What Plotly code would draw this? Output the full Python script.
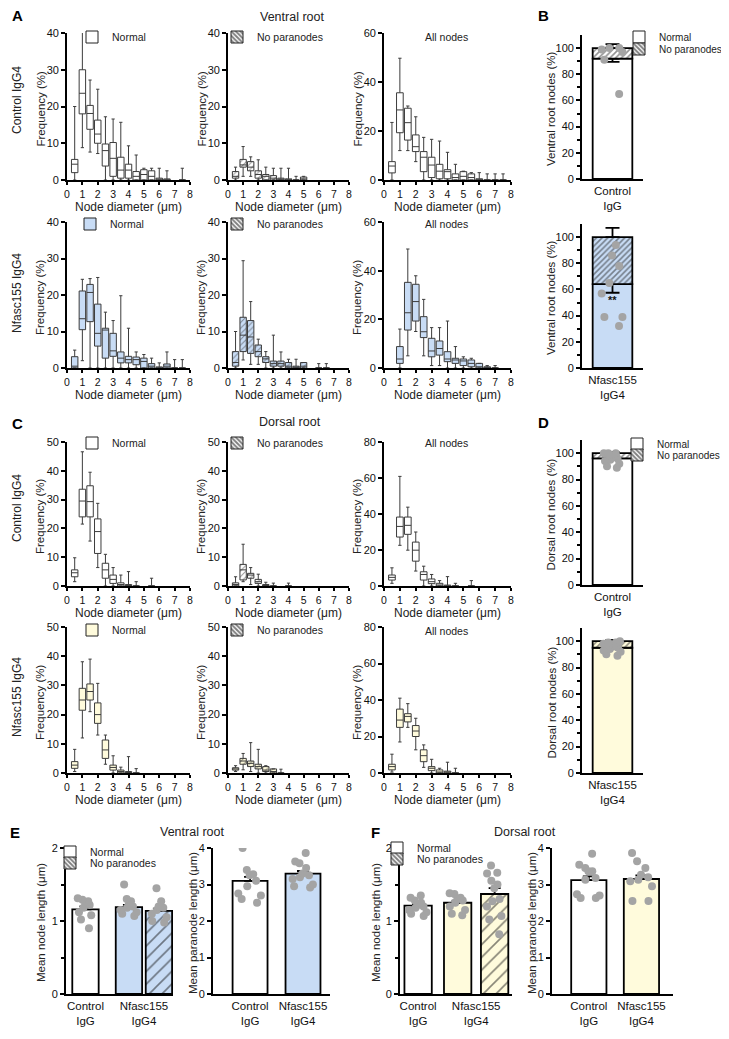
import plotly.graph_objects as go

# ---------------- data ----------------
BINS = [0.5, 1.0, 1.5, 2.0, 2.5, 3.0, 3.5, 4.0, 4.5, 5.0, 5.5, 6.0, 6.5, 7.0, 7.5]
N = None

# A: ventral root, Control IgG4, Normal nodes (frequency %, per bin)
vr_ctl_norm_lo = [0, 8.8, 7.6, 7.2, 0, 0, 0, 0, 0, 0, 0, 0, 0, N, 0]
vr_ctl_norm_q1 = [2.0, 18, 13.8, 10, 3.8, 1.0, 0.5, 0.5, 0, 0, 0, 0, 0, N, 0]
vr_ctl_norm_md = [4.3, 23.6, 18.1, 12.5, 8.0, 5.9, 2.7, 2.7, 1.0, 1.5, 1.0, 0, 0, N, 0]
vr_ctl_norm_q3 = [5.6, 30, 20.3, 16.3, 9.8, 10.2, 6.2, 4.3, 2.3, 2.8, 2.5, 0.5, 0.3, N, 0]
vr_ctl_norm_hi = [20, 41, 27.2, 24.7, 17.2, 16.6, 15.7, 9.3, 6.8, 3.2, 3.2, 3.2, 2.5, N, 3.2]
# A: ventral root, Control IgG4, No paranodes
vr_ctl_np_lo = [0, 1.0, 1.0, 0, 0, 0, 0, 0, 0, 0]
vr_ctl_np_q1 = [0.5, 3.5, 2.5, 0.5, 0, 0, 0, 0, 0, 0]
vr_ctl_np_md = [1.0, 4.1, 3.5, 1.5, 1.0, 0.5, 0, 0, 0, 0.3]
vr_ctl_np_q3 = [2.3, 5.6, 5.0, 2.5, 1.5, 1.2, 0.5, 0.3, 0, 0.8]
vr_ctl_np_hi = [3.5, 9.1, 6.3, 5.5, 3.5, 3.2, 3.2, 3.2, 1.0, 1.0]
# A: ventral root, Control IgG4, All nodes
vr_ctl_all_lo = [0, 12, 12, 7.5, 0, 0, 0, 0, 0, 0, 0, 0, 0, 0, 0]
vr_ctl_all_q1 = [2.9, 19.3, 16.3, 11.6, 3.4, 1.0, 0.5, 0.5, 0, 0, 0, 0, 0, 0, 0]
vr_ctl_all_md = [5.7, 28.6, 23.4, 13.6, 9.3, 6.1, 3.6, 3.4, 1.0, 1.5, 1.0, 0, 0, 0, 0]
vr_ctl_all_q3 = [7.5, 35.6, 29.3, 18.4, 11.6, 9.3, 6.4, 4.2, 2.5, 3.4, 2.5, 0.5, 0, 0, 0]
vr_ctl_all_hi = [23.5, 49.7, 30.2, 25.8, 17.4, 16.6, 15.9, 11.3, 6.4, 3.6, 3.0, 3.0, 2.5, 2.5, 2.5]
# A: ventral root, Nfasc155 IgG4, Normal
vr_nf_norm_lo = [0, 2.0, 0, 0, 0, 0, 0, 0, 0, 0, 0, 0, 0, 0, 0]
vr_nf_norm_q1 = [0, 10.5, 12.7, 6.0, 2.7, 3.2, 1.4, 1.4, 0.9, 0, 0, 0, 0, 0, 0]
vr_nf_norm_md = [0.5, 13.5, 20.7, 9.5, 10.4, 4.7, 2.7, 2.3, 2.3, 1.8, 0.5, 0, 0.5, 0, 0]
vr_nf_norm_q3 = [3.1, 21.1, 22.9, 17.5, 10.9, 9.5, 4.4, 3.2, 3.0, 2.7, 1.2, 0.3, 1.1, 0, 0]
vr_nf_norm_hi = [4.9, 24.3, 24.5, 24.8, 15.3, 13.0, 19.8, 10.9, 4.4, 3.7, 2.7, 1.4, 4.4, 2.3, 2.3]
# A: ventral root, Nfasc155 IgG4, No paranodes
vr_nf_np_lo = [0, 2.2, 1.0, 1.0, 0, 0, 0, 0, 0, 0, N, 0, 0]
vr_nf_np_q1 = [0.5, 4.5, 4.0, 3.1, 1.5, 0.5, 0.5, 0, 0, 0, N, 0, 0]
vr_nf_np_md = [1.5, 9.0, 8.5, 4.5, 2.5, 1.2, 1.2, 0.5, 0, 0.5, N, 0, 0]
vr_nf_np_q3 = [4.5, 13.9, 13.0, 6.3, 3.1, 1.9, 1.9, 1.5, 0.5, 1.5, N, 0, 0]
vr_nf_np_hi = [10, 29.4, 18.2, 7.9, 4.5, 9.0, 4.4, 2.4, 2.4, 1.5, N, 1.2, 1.2]
# A: ventral root, Nfasc155 IgG4, All nodes
vr_nf_all_lo = [N, 0, 5, 15, 5, 1, 1, 0, 0, 0, 0, 0, 0, 0]
vr_nf_all_q1 = [N, 1.9, 15.6, 19.3, 12.5, 4.6, 5.3, 2.6, 1.9, 1.0, 0.5, 0, 0, 0]
vr_nf_all_md = [N, 3.7, 22.7, 27.3, 14.9, 7.0, 8.0, 3.7, 3.3, 2.9, 1.9, 0.5, 0, 0]
vr_nf_all_q3 = [N, 8.8, 35.2, 34.4, 21.1, 12.2, 11.1, 6.7, 4.0, 3.7, 3.3, 1.9, 0.5, 0]
vr_nf_all_hi = [N, 16.0, 48.9, 37.9, 28.2, 16.6, 16.6, 19.3, 8.8, 4.6, 4.0, 1.9, 1.0, 1.0]

# C: dorsal root, Control IgG4, Normal
dr_ctl_norm_lo = [1.5, 21.5, 15.6, 6.4, 0, 0, 0, 0, 0, N, 0]
dr_ctl_norm_q1 = [3.2, 24, 24, 11.3, 2.7, 0.9, 0, 0, 0, N, 0]
dr_ctl_norm_md = [4.6, 29.5, 29.3, 18.9, 5.6, 2.3, 0.5, 0, 0, N, 0]
dr_ctl_norm_q3 = [5.6, 33.6, 34.8, 23.3, 7.9, 3.8, 1.1, 0.5, 0, N, 0]
dr_ctl_norm_hi = [9.8, 46.6, 39.5, 28.7, 11.0, 6.4, 3.8, 5.0, 1.5, N, 2.7]
# C: dorsal root, Control IgG4, No paranodes
dr_ctl_np_lo = [0, 1.5, 0.5, 0, 0, 0, N, 0]
dr_ctl_np_q1 = [0, 2.1, 2.7, 0.9, 0, 0, N, 0]
dr_ctl_np_md = [0.5, 5.6, 3.8, 1.5, 0, 0, N, 0]
dr_ctl_np_q3 = [1.1, 7.5, 4.4, 2.3, 0.5, 0, N, 0]
dr_ctl_np_hi = [3.2, 14.5, 6.4, 4.1, 1.3, 1.0, N, 1.0]
# C: dorsal root, Control IgG4, All nodes
dr_ctl_all_lo = [1.5, 22.6, 19.9, 8.3, 0, 0, 0, 0, 0, N, 0]
dr_ctl_all_q1 = [3.3, 27.2, 28.7, 13.8, 3.3, 1.3, 0, 0, 0, N, 0]
dr_ctl_all_md = [4.8, 33.1, 33.7, 19.9, 6.4, 2.4, 0.5, 0, 0, N, 0]
dr_ctl_all_q3 = [6.1, 38.3, 38.3, 24.4, 7.9, 3.9, 1.5, 0.5, 0, N, 0]
dr_ctl_all_hi = [10.1, 60.9, 43.8, 30.0, 11.0, 6.4, 3.0, 5.2, 1.5, N, 3.0]
# C: dorsal root, Nfasc155 IgG4, Normal
dr_nf_norm_lo = [0.5, 12, 21, 13, 3.0, 0, 0, 0, 0]
dr_nf_norm_q1 = [1.6, 21.5, 25, 17, 5.0, 1.0, 0, 0, 0]
dr_nf_norm_md = [2.7, 25, 27.9, 20, 7.9, 1.9, 0.5, 0, 0]
dr_nf_norm_q3 = [3.9, 29.0, 30.5, 24, 11.3, 2.7, 1.0, 0.5, 0]
dr_nf_norm_hi = [8.1, 38.1, 39.0, 30.7, 13, 5.9, 2.0, 5.6, 1.5]
# C: dorsal root, Nfasc155 IgG4, No paranodes
dr_nf_np_lo = [0.5, 1.1, 0.5, 0, 0, 0, 0]
dr_nf_np_q1 = [1.0, 3.0, 2.2, 1.4, 0.5, 0, 0]
dr_nf_np_md = [1.4, 4.1, 3.3, 2.2, 1.0, 0.5, 0]
dr_nf_np_q3 = [1.8, 5.0, 4.1, 3.0, 2.2, 1.4, 0]
dr_nf_np_hi = [2.5, 6.7, 10.4, 8.1, 2.5, 1.4, 1.3]
# C: dorsal root, Nfasc155 IgG4, All nodes
dr_nf_all_lo = [0.5, 17, 25, 12.7, 3.1, 0, 0, 0, 0]
dr_nf_all_q1 = [1.7, 25, 28, 20, 6.2, 1.3, 0, 0, 0]
dr_nf_all_md = [3.5, 29, 31, 23, 9.5, 2.6, 0.5, 0.5, 0]
dr_nf_all_q3 = [4.8, 35, 32.5, 26, 12.7, 3.5, 1.7, 1.0, 0]
dr_nf_all_hi = [10.3, 41, 38, 30, 15.4, 7.5, 2.6, 5.9, 2.6]

# B / D: % of root nodes (mean, SEM) and individual animals
vr_ctl_pct = [92, 2.5, 8, 3]          # normal, sem, no paranodes, sem
vr_nf_pct = [64, 6.5, 36, 7]
vr_ctl_pct_dots = [100, 100, 99, 97, 91, 65]
vr_nf_pct_dots = [94, 86, 78, 65, 57, 39, 39, 32]
dr_ctl_pct = [96, 1, 4, 1]
dr_nf_pct = [95, 1, 5, 1]
dr_ctl_pct_dots = [100, 100, 100, 99, 98, 97, 96, 95, 94, 92, 90, 89]
dr_nf_pct_dots = [100, 99, 99, 98, 97, 96, 96, 95, 94, 93, 92, 90, 89]

# E / F: mean lengths (mean, SEM) and individual animals
GROUPS = ["Control<br>IgG", "Nfasc155<br>IgG4"]
vr_node_mean = [1.16, 1.19, 1.14]
vr_node_sem = [0.04, 0.03, 0.03]
vr_node_dots = [[1.31, 1.29, 1.27, 1.25, 1.22, 1.18, 1.12, 1.08, 1.02, 0.9],
                [1.5, 1.3, 1.27, 1.22, 1.2, 1.18, 1.15, 1.12, 1.1, 1.07],
                [1.45, 1.27, 1.2, 1.18, 1.15, 1.1, 1.05, 1.0, 0.98]]
vr_para_mean = [3.10, 3.30]
vr_para_sem = [0.11, 0.07]
vr_para_dots = [[4.0, 3.4, 3.28, 3.25, 3.1, 2.95, 2.75, 2.7, 2.6, 2.5],
                [3.86, 3.63, 3.58, 3.45, 3.3, 3.25, 3.2, 3.15, 2.95, 2.92, 3.0]]
dr_node_mean = [1.21, 1.25, 1.37]
dr_node_sem = [0.02, 0.03, 0.08]
dr_node_dots = [[1.35, 1.32, 1.28, 1.25, 1.22, 1.2, 1.18, 1.15, 1.12, 1.1, 1.07],
                [1.38, 1.37, 1.32, 1.3, 1.28, 1.25, 1.2, 1.15, 1.1, 1.08],
                [1.76, 1.66, 1.65, 1.55, 1.5, 1.45, 1.3, 1.27, 1.2, 1.07, 1.02, 0.82]]
dr_para_mean = [3.12, 3.15]
dr_para_sem = [0.1, 0.1]
dr_para_dots = [[3.84, 3.54, 3.45, 3.36, 3.36, 3.18, 3.13, 2.7, 2.73, 2.63, 2.63],
                [3.86, 3.64, 3.45, 3.09, 3.13, 2.95, 2.55, 2.55, 3.2, 3.27]]

# ---------------- style / layout constants ----------------
W, H = 745, 1039
OX, OY = 8, 8            # page offset of the figure inside the browser window
FONT = "Liberation Sans, Arial, sans-serif"
WHITE, BLUE, YELLOW = "#ffffff", "#c8dcf5", "#fffbdc"
DOT = "#a4a4a4"
BOXLINE = "#3c3c3c"
CLEAR = "rgba(0,0,0,0)"
TICKFONT = dict(size=11, color="#111", family=FONT)


def fx(px):
    return (px - OX) / W


def fy(py):
    return 1 - (py - OY) / H


fig = go.Figure()
layout = {}
ann = []


def text(t, px, py, size=11, bold=False, angle=0, color="#222"):
    ann.append(dict(text=("<b>%s</b>" % t) if bold else t, x=fx(px), y=fy(py),
                    xref="paper", yref="paper", showarrow=False, textangle=angle,
                    font=dict(size=size, color=color, family=FONT), xanchor="center",
                    yanchor="middle"))


AX = dict(showline=True, linecolor="black", linewidth=1.8, showgrid=False, zeroline=False,
          ticks="outside", ticklen=4, tickwidth=1.5, tickcolor="black",
          tickfont=TICKFONT, fixedrange=True)


def sfx(i):
    return "" if i == 1 else str(i)


def set_axes(i, xpx, ypx, xkw, ykw, ytitle, ytx, ysize):
    s = sfx(i)
    layout["xaxis" + s] = {**AX, "domain": [fx(xpx[0]), fx(xpx[1])], "anchor": "y" + s, **xkw}
    layout["yaxis" + s] = {**AX, "domain": [fy(ypx[1]), fy(ypx[0])], "anchor": "x" + s, **ykw}
    text(ytitle, ytx, (ypx[0] + ypx[1]) / 2 + 2, ysize, angle=-90)


def histogram(i, xpx, ypx, ymax, ydt, stats, fill, hatched):
    s = sfx(i)
    lo, q1, md, q3, hi = stats
    rows = [r for r in zip(BINS, lo, q1, md, q3, hi) if r[3] is not None]
    xs = [r[0] for r in rows]
    if hatched:
        fig.add_trace(go.Bar(
            x=xs, y=[r[4] - r[2] for r in rows], base=[r[2] for r in rows], width=0.42,
            marker=dict(color=fill, line=dict(width=0),
                        pattern=dict(shape="/", fgcolor="#333", bgcolor=fill, size=4, solidity=0.25)),
            xaxis="x" + s, yaxis="y" + s, showlegend=False, hoverinfo="skip"))
    fig.add_trace(go.Box(
        x=xs, lowerfence=[r[1] for r in rows], q1=[r[2] for r in rows], median=[r[3] for r in rows],
        q3=[r[4] for r in rows], upperfence=[r[5] for r in rows], orientation="v",
        width=0.42, whiskerwidth=0.5, fillcolor=CLEAR if hatched else fill,
        line=dict(color=BOXLINE, width=1), boxpoints=False,
        xaxis="x" + s, yaxis="y" + s, showlegend=False, hoverinfo="skip"))
    set_axes(i, xpx, ypx,
             dict(range=[0, 8], dtick=1, ticklen=3,
                  tickfont=dict(size=10.5, color="#111", family=FONT)),
             dict(range=[0, ymax], dtick=ydt),
             "Frequency (%)", xpx[0] - 27, 11.5)
    text("Node diameter (μm)", (xpx[0] + xpx[1]) / 2, ypx[1] + 27, 12)


def stacked(i, xpx, ypx, stats, dots, fill, label, ytitle):
    s = sfx(i)
    normal, nsem, nop, npsem = stats
    fig.add_trace(go.Bar(
        x=[0], y=[normal], width=0.65,
        marker=dict(color=fill, line=dict(color="black", width=1.8)),
        error_y=dict(type="data", symmetric=False, array=[0], arrayminus=[nsem],
                     color="black", thickness=1.8, width=7),
        xaxis="x" + s, yaxis="y" + s, showlegend=False, hoverinfo="skip"))
    fig.add_trace(go.Bar(
        x=[0], y=[nop], base=[normal], width=0.65,
        marker=dict(color=fill, line=dict(color="black", width=1.8),
                    pattern=dict(shape="/", fgcolor="#222", bgcolor=fill, size=4, solidity=0.4)),
        error_y=dict(type="data", symmetric=False, array=[npsem], arrayminus=[0],
                     color="black", thickness=1.8, width=7),
        xaxis="x" + s, yaxis="y" + s, showlegend=False, hoverinfo="skip"))
    fig.add_trace(go.Box(
        y=dots, x0=0, boxpoints="all", jitter=0.7, pointpos=0, width=0.6,
        fillcolor=CLEAR, line=dict(width=0, color=CLEAR),
        marker=dict(color=DOT, size=8), xaxis="x" + s, yaxis="y" + s,
        showlegend=False, hoverinfo="skip"))
    set_axes(i, xpx, ypx,
             dict(range=[-0.5, 0.5], tickvals=[0], ticktext=[label], ticks="",
                  tickfont=dict(size=11.5, color="#111", family=FONT)),
             dict(range=[0, 110], tickvals=[0, 20, 40, 60, 80, 100],
                  minor=dict(tickvals=[10, 30, 50, 70, 90], ticklen=3, tickwidth=1.5,
                             tickcolor="black", ticks="outside")),
             ytitle, 551, 11.5)


def meanbars(i, xpx, ypx, pos, width, xr, means, sems, fills, hatch, dots, tickpos,
             ymax, minor, ytitle, ytx):
    s = sfx(i)
    for p, m, e, f, h, d in zip(pos, means, sems, fills, hatch, dots):
        mk = dict(color=f, line=dict(color="black", width=1.8))
        if h:
            mk["pattern"] = dict(shape="/", fgcolor="#111", bgcolor=f, size=9, solidity=0.18)
        fig.add_trace(go.Bar(
            x=[p], y=[m], width=width, marker=mk,
            error_y=dict(type="data", symmetric=False, array=[e], arrayminus=[0],
                         color="black", thickness=1.8, width=6),
            xaxis="x" + s, yaxis="y" + s, showlegend=False, hoverinfo="skip"))
        fig.add_trace(go.Box(
            y=d, x0=p, boxpoints="all", jitter=1.0, pointpos=0, width=width * 0.8,
            fillcolor=CLEAR, line=dict(width=0, color=CLEAR),
            marker=dict(color=DOT, size=8), xaxis="x" + s, yaxis="y" + s,
            showlegend=False, hoverinfo="skip"))
    ykw = dict(range=[0, ymax], dtick=1)
    if minor:
        ykw["minor"] = dict(tickvals=minor, ticklen=3, tickwidth=1.5, tickcolor="black",
                            ticks="outside")
    set_axes(i, xpx, ypx,
             dict(range=xr, tickvals=tickpos, ticktext=GROUPS, ticks="",
                  tickfont=dict(size=11.5, color="#111", family=FONT)),
             ykw, ytitle, ytx, 11.5)


HX = [(67, 190), (228, 349), (384, 511)]

# ---- Panel A ----
histogram(1, HX[0], (33, 180), 40, 10,
          (vr_ctl_norm_lo, vr_ctl_norm_q1, vr_ctl_norm_md, vr_ctl_norm_q3, vr_ctl_norm_hi), WHITE, False)
histogram(2, HX[1], (33, 180), 40, 10,
          (vr_ctl_np_lo, vr_ctl_np_q1, vr_ctl_np_md, vr_ctl_np_q3, vr_ctl_np_hi), WHITE, True)
histogram(3, HX[2], (33, 180), 60, 20,
          (vr_ctl_all_lo, vr_ctl_all_q1, vr_ctl_all_md, vr_ctl_all_q3, vr_ctl_all_hi), WHITE, False)
histogram(4, HX[0], (222, 368), 40, 10,
          (vr_nf_norm_lo, vr_nf_norm_q1, vr_nf_norm_md, vr_nf_norm_q3, vr_nf_norm_hi), BLUE, False)
histogram(5, HX[1], (222, 368), 40, 10,
          (vr_nf_np_lo, vr_nf_np_q1, vr_nf_np_md, vr_nf_np_q3, vr_nf_np_hi), BLUE, True)
histogram(6, HX[2], (222, 368), 60, 20,
          (vr_nf_all_lo, vr_nf_all_q1, vr_nf_all_md, vr_nf_all_q3, vr_nf_all_hi), BLUE, False)
# ---- Panel B ----
stacked(7, (582, 643), (35, 179), vr_ctl_pct, vr_ctl_pct_dots, WHITE, "Control<br>IgG",
        "Ventral root nodes (%)")
stacked(8, (582, 643), (224, 368), vr_nf_pct, vr_nf_pct_dots, BLUE, "Nfasc155<br>IgG4",
        "Ventral root nodes (%)")
# ---- Panel C ----
histogram(9, HX[0], (442, 586), 50, 10,
          (dr_ctl_norm_lo, dr_ctl_norm_q1, dr_ctl_norm_md, dr_ctl_norm_q3, dr_ctl_norm_hi), WHITE, False)
histogram(10, HX[1], (442, 586), 50, 10,
          (dr_ctl_np_lo, dr_ctl_np_q1, dr_ctl_np_md, dr_ctl_np_q3, dr_ctl_np_hi), WHITE, True)
histogram(11, HX[2], (442, 586), 80, 20,
          (dr_ctl_all_lo, dr_ctl_all_q1, dr_ctl_all_md, dr_ctl_all_q3, dr_ctl_all_hi), WHITE, False)
histogram(12, HX[0], (627, 773), 50, 10,
          (dr_nf_norm_lo, dr_nf_norm_q1, dr_nf_norm_md, dr_nf_norm_q3, dr_nf_norm_hi), YELLOW, False)
histogram(13, HX[1], (627, 773), 50, 10,
          (dr_nf_np_lo, dr_nf_np_q1, dr_nf_np_md, dr_nf_np_q3, dr_nf_np_hi), YELLOW, True)
histogram(14, HX[2], (627, 773), 80, 20,
          (dr_nf_all_lo, dr_nf_all_q1, dr_nf_all_md, dr_nf_all_q3, dr_nf_all_hi), YELLOW, False)
# ---- Panel D ----
stacked(15, (582, 643), (440, 585), dr_ctl_pct, dr_ctl_pct_dots, WHITE, "Control<br>IgG",
        "Dorsal root nodes (%)")
stacked(16, (582, 643), (628, 773), dr_nf_pct, dr_nf_pct_dots, YELLOW, "Nfasc155<br>IgG4",
        "Dorsal root nodes (%)")
# ---- Panel E ----
meanbars(17, (66, 173), (848, 994), [0, 1.45, 2.45], 0.88, [-0.65, 2.92],
         vr_node_mean, vr_node_sem, [WHITE, BLUE, BLUE], [False, False, True], vr_node_dots,
         [0, 1.95], 2, [0.5, 1.5], "Mean node length (μm)", 41)
meanbars(18, (213, 330), (848, 994), [0, 1], 0.66, [-0.70, 1.51],
         vr_para_mean, vr_para_sem, [WHITE, BLUE], [False, False], vr_para_dots,
         [0, 1], 4, None, "Mean paranode length (μm)", 193)
# ---- Panel F ----
meanbars(19, (400, 512), (848, 994), [0, 1.07, 2.07], 0.74, [-0.49, 2.54],
         dr_node_mean, dr_node_sem, [WHITE, YELLOW, YELLOW], [False, False, True], dr_node_dots,
         [0, 1.57], 2, [0.5, 1.5], "Mean node length (μm)", 376)
meanbars(20, (552, 673), (848, 994), [0, 1], 0.67, [-0.70, 1.60],
         dr_para_mean, dr_para_sem, [WHITE, YELLOW], [False, False], dr_para_dots,
         [0, 1], 4, None, "Mean paranode length (μm)", 532)

# ---- legends (one entry per legend box, placed like the reference keys) ----
LEG = [  # name, fill, hatched, text-left px, centre-y px, font size
    ("Normal", WHITE, False, 112, 37, 10.5), ("No paranodes", WHITE, True, 257, 37, 10.5),
    ("Normal", BLUE, False, 110, 224, 10.5), ("No paranodes", WHITE, True, 257, 224, 10.5),
    ("Normal", WHITE, False, 659, 37, 10), ("No paranodes", WHITE, True, 659, 49, 10),
    ("Normal", WHITE, False, 112, 443, 10.5), ("No paranodes", WHITE, True, 257, 443, 10.5),
    ("Normal", YELLOW, False, 112, 630, 10.5), ("No paranodes", WHITE, True, 257, 630, 10.5),
    ("Normal", WHITE, False, 657, 444, 10), ("No paranodes", WHITE, True, 657, 455, 10),
    ("Normal", WHITE, False, 90, 852, 10.5), ("No paranodes", WHITE, True, 90, 863, 10.5),
    ("Normal", WHITE, False, 417, 848, 10.5), ("No paranodes", WHITE, True, 417, 859, 10.5),
]
for k, (name, fill, hatched, tx, ty, fs) in enumerate(LEG):
    lid = "legend" if k == 0 else "legend%d" % (k + 1)
    mk = dict(color=fill, line=dict(color="#222", width=1))
    if hatched:
        mk["pattern"] = dict(shape="\\", fgcolor="#000", bgcolor="white", size=4, solidity=0.6)
    fig.add_trace(go.Bar(x=[None], y=[None], name=name, legend=lid, marker=mk,
                         xaxis="x", yaxis="y", showlegend=True, hoverinfo="skip"))
    layout[lid] = dict(x=fx(tx - 40), y=fy(ty), xanchor="left", yanchor="middle",
                       bgcolor=CLEAR, borderwidth=0, itemclick=False, itemdoubleclick=False,
                       font=dict(size=fs, color="#222", family=FONT))

# ---- text annotations ----
for letter, px, py in [("A", 17, 16), ("B", 543, 16), ("C", 17, 423), ("D", 543, 422),
                       ("E", 15, 832), ("F", 375, 832)]:
    text(letter, px, py, size=15, bold=True, color="black")
text("Ventral root", 292, 17, 12.5)
text("Dorsal root", 290, 422, 12.5)
text("Ventral root", 192, 832, 12.5)
text("Dorsal root", 525, 832, 12.5)
for py in (37, 224, 443, 631):
    text("All nodes", 447, py, 10.5)
text("Control IgG4", 17, 100, 12, angle=-90)
text("Nfasc155 IgG4", 17, 293, 12, angle=-90)
text("Control IgG4", 17, 508, 12, angle=-90)
text("Nfasc155 IgG4", 17, 697, 12, angle=-90)
# significance mark inside the Nfasc155 ventral bar
ann.append(dict(text="<b>**</b>", x=0, y=52, xref="x8", yref="y8", showarrow=False,
                font=dict(size=11, color="#111", family=FONT)))

layout.update(dict(width=W, height=H, margin=dict(l=0, r=0, t=0, b=0, pad=0, autoexpand=False),
                   paper_bgcolor="white", plot_bgcolor=CLEAR, barmode="overlay",
                   font=dict(family=FONT, size=11, color="#222"), showlegend=True,
                   annotations=ann))
fig.update_layout(layout)
fig.write_html("out.html")
